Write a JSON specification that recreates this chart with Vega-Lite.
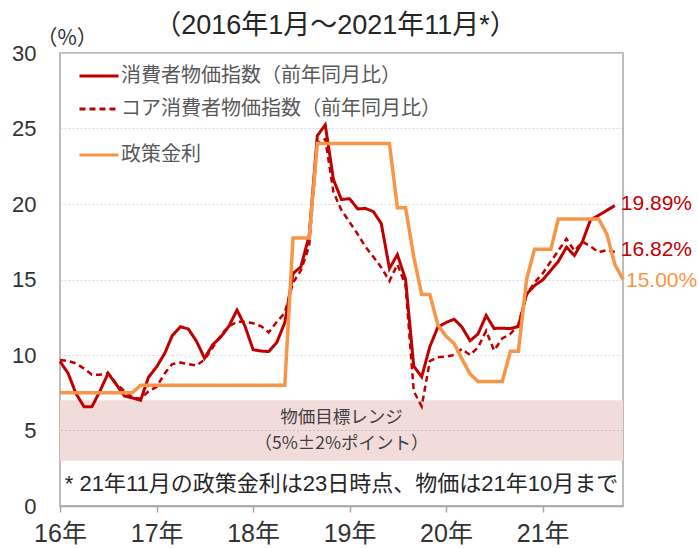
{
  "$schema": "https://vega.github.io/schema/vega-lite/v6.json",
  "width": 563,
  "height": 453,
  "autosize": {"type": "none"},
  "padding": {"left": 60, "top": 53, "right": 75, "bottom": 42},
  "title": {"text": "（2016年1月～2021年11月*）", "fontSize": 27, "font": "Liberation Sans, Noto Sans CJK JP", "fontWeight": "normal", "color": "#262626", "offset": -13, "dx": -6},
  "datasets": {
    "main": [
      {"d": "2016-01", "cpi": 9.58, "core": 9.67, "rate": 7.5},
      {"d": "2016-02", "cpi": 8.78, "core": 9.6, "rate": 7.5},
      {"d": "2016-03", "cpi": 7.46, "core": 9.45, "rate": 7.5},
      {"d": "2016-04", "cpi": 6.57, "core": 9.1, "rate": 7.5},
      {"d": "2016-05", "cpi": 6.58, "core": 8.7, "rate": 7.5},
      {"d": "2016-06", "cpi": 7.64, "core": 8.7, "rate": 7.5},
      {"d": "2016-07", "cpi": 8.79, "core": 8.8, "rate": 7.5},
      {"d": "2016-08", "cpi": 8.05, "core": 8.1, "rate": 7.5},
      {"d": "2016-09", "cpi": 7.28, "core": 7.6, "rate": 7.5},
      {"d": "2016-10", "cpi": 7.16, "core": 7.2, "rate": 7.5},
      {"d": "2016-11", "cpi": 7.0, "core": 7.1, "rate": 8.0},
      {"d": "2016-12", "cpi": 8.53, "core": 7.6, "rate": 8.0},
      {"d": "2017-01", "cpi": 9.22, "core": 7.9, "rate": 8.0},
      {"d": "2017-02", "cpi": 10.13, "core": 8.8, "rate": 8.0},
      {"d": "2017-03", "cpi": 11.29, "core": 9.4, "rate": 8.0},
      {"d": "2017-04", "cpi": 11.87, "core": 9.5, "rate": 8.0},
      {"d": "2017-05", "cpi": 11.72, "core": 9.4, "rate": 8.0},
      {"d": "2017-06", "cpi": 10.9, "core": 9.3, "rate": 8.0},
      {"d": "2017-07", "cpi": 9.79, "core": 9.7, "rate": 8.0},
      {"d": "2017-08", "cpi": 10.68, "core": 10.5, "rate": 8.0},
      {"d": "2017-09", "cpi": 11.2, "core": 11.3, "rate": 8.0},
      {"d": "2017-10", "cpi": 11.9, "core": 11.9, "rate": 8.0},
      {"d": "2017-11", "cpi": 12.98, "core": 12.2, "rate": 8.0},
      {"d": "2017-12", "cpi": 11.92, "core": 12.2, "rate": 8.0},
      {"d": "2018-01", "cpi": 10.35, "core": 12.1, "rate": 8.0},
      {"d": "2018-02", "cpi": 10.26, "core": 11.9, "rate": 8.0},
      {"d": "2018-03", "cpi": 10.23, "core": 11.5, "rate": 8.0},
      {"d": "2018-04", "cpi": 10.85, "core": 12.2, "rate": 8.0},
      {"d": "2018-05", "cpi": 12.15, "core": 12.8, "rate": 8.0},
      {"d": "2018-06", "cpi": 15.39, "core": 14.8, "rate": 17.75},
      {"d": "2018-07", "cpi": 15.85, "core": 15.6, "rate": 17.75},
      {"d": "2018-08", "cpi": 17.9, "core": 17.2, "rate": 17.75},
      {"d": "2018-09", "cpi": 24.52, "core": 24.05, "rate": 24.0},
      {"d": "2018-10", "cpi": 25.24, "core": 24.3, "rate": 24.0},
      {"d": "2018-11", "cpi": 21.62, "core": 20.8, "rate": 24.0},
      {"d": "2018-12", "cpi": 20.3, "core": 19.6, "rate": 24.0},
      {"d": "2019-01", "cpi": 20.35, "core": 18.8, "rate": 24.0},
      {"d": "2019-02", "cpi": 19.67, "core": 18.0, "rate": 24.0},
      {"d": "2019-03", "cpi": 19.71, "core": 17.2, "rate": 24.0},
      {"d": "2019-04", "cpi": 19.5, "core": 16.5, "rate": 24.0},
      {"d": "2019-05", "cpi": 18.71, "core": 15.8, "rate": 24.0},
      {"d": "2019-06", "cpi": 15.72, "core": 14.9, "rate": 24.0},
      {"d": "2019-07", "cpi": 16.65, "core": 16.0, "rate": 19.75},
      {"d": "2019-08", "cpi": 15.01, "core": 14.6, "rate": 19.75},
      {"d": "2019-09", "cpi": 9.26, "core": 7.6, "rate": 16.5},
      {"d": "2019-10", "cpi": 8.55, "core": 6.6, "rate": 14.0},
      {"d": "2019-11", "cpi": 10.56, "core": 9.6, "rate": 14.0},
      {"d": "2019-12", "cpi": 11.84, "core": 9.85, "rate": 12.0},
      {"d": "2020-01", "cpi": 12.15, "core": 9.9, "rate": 11.25},
      {"d": "2020-02", "cpi": 12.37, "core": 10.0, "rate": 10.75},
      {"d": "2020-03", "cpi": 11.86, "core": 10.4, "rate": 9.75},
      {"d": "2020-04", "cpi": 10.94, "core": 10.0, "rate": 8.75},
      {"d": "2020-05", "cpi": 11.39, "core": 10.5, "rate": 8.25},
      {"d": "2020-06", "cpi": 12.62, "core": 11.6, "rate": 8.25},
      {"d": "2020-07", "cpi": 11.76, "core": 10.3, "rate": 8.25},
      {"d": "2020-08", "cpi": 11.77, "core": 11.1, "rate": 8.25},
      {"d": "2020-09", "cpi": 11.75, "core": 11.4, "rate": 10.25},
      {"d": "2020-10", "cpi": 11.89, "core": 12.0, "rate": 10.25},
      {"d": "2020-11", "cpi": 14.03, "core": 14.0, "rate": 15.0},
      {"d": "2020-12", "cpi": 14.6, "core": 14.8, "rate": 17.0},
      {"d": "2021-01", "cpi": 14.97, "core": 15.4, "rate": 17.0},
      {"d": "2021-02", "cpi": 15.61, "core": 16.2, "rate": 17.0},
      {"d": "2021-03", "cpi": 16.19, "core": 16.9, "rate": 19.0},
      {"d": "2021-04", "cpi": 17.14, "core": 17.7, "rate": 19.0},
      {"d": "2021-05", "cpi": 16.59, "core": 16.9, "rate": 19.0},
      {"d": "2021-06", "cpi": 17.53, "core": 17.5, "rate": 19.0},
      {"d": "2021-07", "cpi": 18.95, "core": 17.2, "rate": 19.0},
      {"d": "2021-08", "cpi": 19.25, "core": 16.8, "rate": 19.0},
      {"d": "2021-09", "cpi": 19.58, "core": 16.95, "rate": 18.0},
      {"d": "2021-10", "cpi": 19.89, "core": 16.82, "rate": 16.0},
      {"d": "2021-11", "cpi": null, "core": null, "rate": 15.0}
    ],
    "ends": [
      {"key": "cpi", "d": "2021-10", "value": 19.89, "label": "19.89%"},
      {"key": "core", "d": "2021-10", "value": 16.82, "label": "16.82%"},
      {"key": "rate", "d": "2021-11", "value": 15.0, "label": "15.00%"}
    ],
    "target": [{"lo": 3, "hi": 7, "mid": 5}]
  },
  "layer": [
    {
      "data": {"name": "target"},
      "mark": {"type": "rect", "color": "#f2dcdb"},
      "encoding": {
        "y": {"field": "lo", "type": "quantitative", "scale": {"domain": [0, 30], "nice": false}},
        "y2": {"field": "hi"}
      }
    },
    {
      "data": {"name": "target"},
      "mark": {"type": "rule", "color": "#bfbfbf", "strokeDash": [2, 2], "strokeWidth": 1},
      "encoding": {
        "y": {"field": "mid", "type": "quantitative"}
      }
    },
    {
      "data": {"name": "target"},
      "mark": {"type": "text", "text": ["物価目標レンジ", "（5%±2%ポイント）"], "font": "Noto Sans CJK JP", "fontSize": 17.5, "color": "#404040", "lineHeight": 26, "baseline": "middle", "align": "center"},
      "encoding": {
        "y": {"datum": 5.8, "type": "quantitative"}
      }
    },
    {
      "data": {"name": "target"},
      "mark": {"type": "text", "text": "* 21年11月の政策金利は23日時点、物価は21年10月まで", "font": "Liberation Sans, Noto Sans CJK JP", "fontSize": 22, "color": "#262626", "baseline": "middle", "align": "center"},
      "encoding": {
        "y": {"datum": 1.45, "type": "quantitative"}
      }
    },
    {
      "data": {"name": "main"},
      "transform": [
        {"fold": ["cpi", "core", "rate"], "as": ["key", "value"]},
        {"filter": "isValid(datum.value)"}
      ],
      "encoding": {
        "x": {
          "field": "d", "type": "temporal", "title": null,
          "scale": {"type": "utc", "domain": [{"year": 2016, "month": 1, "date": 1, "utc": true}, {"year": 2021, "month": 11, "date": 1, "utc": true}]},
          "axis": {"tickCount": "year", "format": "%y年", "labelFlush": false, "labelFont": "Liberation Sans, Noto Sans CJK JP", "labelFontSize": 25, "labelColor": "#333333", "labelPadding": 9, "tickColor": "#a6a6a6", "tickSize": 6, "tickWidth": 1.5, "domainColor": "#a6a6a6", "domainWidth": 1.5, "grid": false}
        },
        "y": {
          "field": "value", "type": "quantitative", "title": "（%）",
          "scale": {"domain": [0, 30], "nice": false},
          "axis": {"values": [0, 5, 10, 15, 20, 25, 30], "ticks": false, "domain": false, "labelPadding": 24, "labelFont": "Liberation Sans, Noto Sans CJK JP", "labelFontSize": 22, "labelColor": "#333333", "grid": true, "gridColor": "#d9d9d9", "gridDash": [2, 2], "titleAngle": 0, "titleAlign": "left", "titleBaseline": "middle", "titleX": -24, "titleY": -15, "titleFont": "Noto Sans CJK JP", "titleFontSize": 21, "titleFontWeight": "normal", "titleColor": "#333333"}
        },
        "color": {
          "field": "key", "type": "nominal",
          "scale": {"domain": ["cpi", "core", "rate"], "range": ["#c00000", "#c00000", "#f79646"]},
          "legend": {"orient": "none", "legendX": 18, "legendY": 2, "title": null, "padding": 0, "symbolType": "stroke", "symbolSize": 1521, "symbolStrokeWidth": 3, "labelFont": "Noto Sans CJK JP", "labelFontSize": 20, "labelColor": "#595959", "labelOffset": 1, "labelLimit": 0, "labelExpr": "datum.value == 'cpi' ? '消費者物価指数（前年同月比）' : datum.value == 'core' ? 'コア消費者物価指数（前年同月比）' : '政策金利'", "encode": {"labels": {"update": {"dy": {"signal": "datum.value == 'rate' ? 13 : 0"}}}, "symbols": {"update": {"shape": {"signal": "datum.value == 'rate' ? 'M-1,0.67H1' : 'stroke'"}}}}}
        },
        "strokeDash": {
          "field": "key", "type": "nominal",
          "scale": {"domain": ["cpi", "core", "rate"], "range": [[1, 0], [6, 4], [1, 0]]},
          "legend": {"orient": "none", "legendX": 18, "legendY": 2, "title": null, "padding": 0, "symbolType": "stroke", "symbolSize": 1521, "symbolStrokeWidth": 3, "labelFont": "Noto Sans CJK JP", "labelFontSize": 20, "labelColor": "#595959", "labelOffset": 1, "labelLimit": 0, "labelExpr": "datum.value == 'cpi' ? '消費者物価指数（前年同月比）' : datum.value == 'core' ? 'コア消費者物価指数（前年同月比）' : '政策金利'", "encode": {"labels": {"update": {"dy": {"signal": "datum.value == 'rate' ? 13 : 0"}}}, "symbols": {"update": {"shape": {"signal": "datum.value == 'rate' ? 'M-1,0.67H1' : 'stroke'"}}}}}
        }
      },
      "layer": [
        {"transform": [{"filter": {"field": "key", "equal": "core"}}], "mark": {"type": "line", "strokeWidth": 2.5}},
        {"transform": [{"filter": {"field": "key", "equal": "cpi"}}], "mark": {"type": "line", "strokeWidth": 3}},
        {"transform": [{"filter": {"field": "key", "equal": "rate"}}], "mark": {"type": "line", "strokeWidth": 3.5}}
      ]
    },
    {
      "data": {"name": "ends"},
      "transform": [{"filter": "datum.key != 'rate'"}],
      "mark": {"type": "text", "align": "left", "baseline": "middle", "dx": 6, "dy": -2, "font": "Liberation Sans", "fontSize": 21, "color": "#c00000"},
      "encoding": {
        "x": {"field": "d", "type": "temporal"},
        "y": {"field": "value", "type": "quantitative"},
        "text": {"field": "label"}
      }
    },
    {
      "data": {"name": "ends"},
      "transform": [{"filter": "datum.key == 'rate'"}],
      "mark": {"type": "text", "align": "left", "baseline": "middle", "dx": 3, "dy": 1, "font": "Liberation Sans", "fontSize": 21, "color": "#f79646"},
      "encoding": {
        "x": {"field": "d", "type": "temporal"},
        "y": {"field": "value", "type": "quantitative"},
        "text": {"field": "label"}
      }
    }
  ],
  "config": {
    "view": {"stroke": "#a6a6a6", "strokeWidth": 1.5},
    "background": "white"
  }
}
